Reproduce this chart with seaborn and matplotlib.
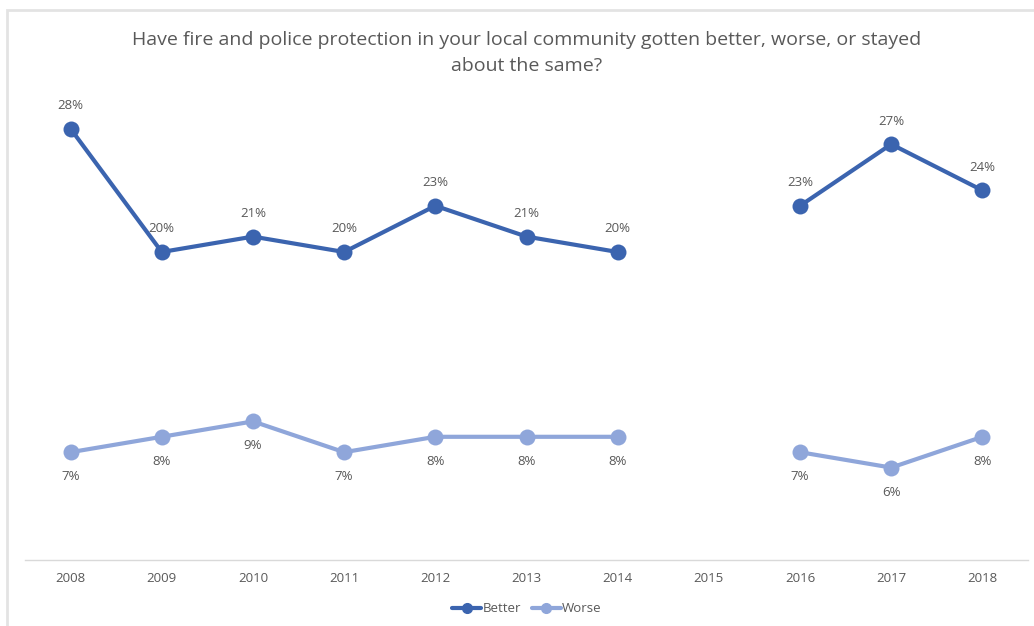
import numpy as np
import pandas as pd
import matplotlib
matplotlib.use("Agg")
import matplotlib.pyplot as plt
from matplotlib.lines import Line2D
from matplotlib.patches import Rectangle
import seaborn as sns

years = ["2008", "2009", "2010", "2011", "2012", "2013", "2014", "2015", "2016", "2017", "2018"]
better = [28, 20, 21, 20, 23, 21, 20, None, 23, 27, 24]
worse = [7, 8, 9, 7, 8, 8, 8, None, 7, 6, 8]

BETTER_C = "#3B64AF"
WORSE_C = "#8FA6DA"
TEXT_C = "#595959"

sns.set_theme(style="white")
plt.rcParams["font.family"] = ["Open Sans", "DejaVu Sans"]

# long table; a gap year splits each series into separate segments
rows = []
for name, vals in (("Better", better), ("Worse", worse)):
    seg = 0
    for i, v in enumerate(vals):
        if v is None:
            seg += 1
            continue
        rows.append({"x": i, "year": years[i], "value": v, "series": name, "seg": f"{name}{seg}"})
df = pd.DataFrame(rows)

fig = plt.figure(figsize=(10.34, 6.26), dpi=100)
ax = fig.add_axes([25 / 1034, 66 / 626, 1003 / 1034, 462 / 626])

palette = {"Better": BETTER_C, "Worse": WORSE_C}
for name in ("Better", "Worse"):
    sub = df[df.series == name]
    sns.lineplot(data=sub, x="x", y="value", units="seg", estimator=None,
                 color=palette[name], linewidth=3, marker="o", markersize=11.5,
                 markeredgewidth=0, ax=ax, legend=False)

# value labels: above for Better, below for Worse
for _, r in df.iterrows():
    if r.series == "Better":
        ax.annotate(f"{r.value}%", (r.x, r.value), xytext=(0, 12), textcoords="offset points",
                    ha="center", va="bottom", fontsize=9.5, color=TEXT_C)
    else:
        ax.annotate(f"{r.value}%", (r.x, r.value), xytext=(0, -13), textcoords="offset points",
                    ha="center", va="top", fontsize=9.5, color=TEXT_C)

ax.set_xlim(-0.5, len(years) - 0.5)
ax.set_ylim(0, 30)
ax.set_xticks(range(len(years)))
ax.set_xticklabels(years, fontsize=9.5, color=TEXT_C)
ax.set_yticks([])
ax.set_xlabel("")
ax.set_ylabel("")
ax.tick_params(axis="x", length=0, pad=9)
for side in ("top", "right", "left"):
    ax.spines[side].set_visible(False)
ax.spines["bottom"].set_color("#D9D9D9")
ax.spines["bottom"].set_linewidth(1)

fig.text(527 / 1034, 1 - 40 / 626, "Have fire and police protection in your local community gotten better, worse, or stayed",
         ha="center", va="center", fontsize=14, color=TEXT_C)
fig.text(527 / 1034, 1 - 66 / 626, "about the same?",
         ha="center", va="center", fontsize=14, color=TEXT_C)

handles = [Line2D([], [], color=BETTER_C, lw=3, marker="o", markersize=7),
           Line2D([], [], color=WORSE_C, lw=3, marker="o", markersize=7)]
fig.legend(handles, ["Better", "Worse"], loc="center", bbox_to_anchor=(527 / 1034, 1 - 609 / 626),
           ncol=2, frameon=False, fontsize=9.5, labelcolor=TEXT_C, handlelength=2.2,
           handletextpad=0.1, columnspacing=0.8)

# light chart frame along the top and left edges
fig.add_artist(Rectangle((7 / 1034, -0.1), 1.2, 1 - 10 / 626 + 0.1, transform=fig.transFigure,
                         fill=False, edgecolor="#E3E3E3", linewidth=2))

fig.savefig("out.png", dpi=100)
